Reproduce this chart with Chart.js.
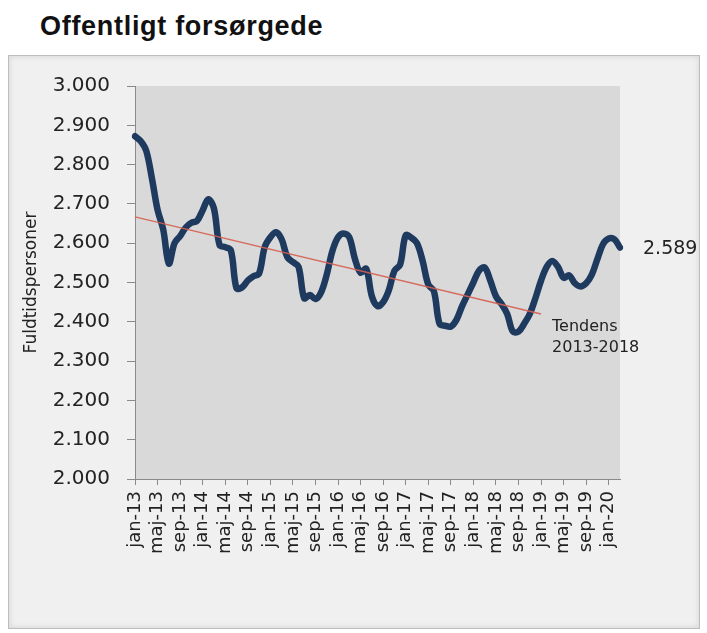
<!DOCTYPE html>
<html lang="da">
<head>
<meta charset="UTF-8">
<title>Offentligt forsørgede</title>
<style>
body { margin: 0; background: #fff; width: 707px; height: 633px; position: relative; overflow: hidden; }
.title {
  position: absolute; left: 40px; top: 13px;
  font: bold 27px "Liberation Sans", Arial, sans-serif; line-height: 26px; color: #111;
  letter-spacing: 0.7px;
}
.panel {
  position: absolute; left: 8px; top: 55px; width: 690px; height: 572px;
  border: 1px solid #bdbdbd; background: #f0f0f0;
  box-shadow: inset 0 0 6px rgba(0,0,0,0.12);
}
.panel canvas { position: absolute; left: 0; top: 0; }
</style>
</head>
<body>
<div class="title">Offentligt forsørgede</div>
<div class="panel">
  <canvas id="chart" width="690" height="572"></canvas>
</div>

<script src="https://cdn.jsdelivr.net/npm/chart.js"></script>
<script>
// month names (Danish) and years covered, jan-13 .. mar-20
const monthNames = ['jan','feb','mar','apr','maj','jun','jul','aug','sep','okt','nov','dec'];
const years = [13, 14, 15, 16, 17, 18, 19, 20];
const lastMonthOf2020 = 3;

// offentligt forsørgede, fuldtidspersoner, monthly
const forsorgede = [
  2872, 2860, 2835, 2765, 2685, 2635, 2548, 2600, 2618, 2640, 2652, 2657,
  2684, 2712, 2688, 2595, 2590, 2582, 2485, 2488, 2505, 2516, 2523, 2590,
  2615, 2628, 2610, 2565, 2552, 2540, 2460, 2468, 2458, 2475, 2520, 2580,
  2615, 2625, 2615, 2560, 2525, 2535, 2465, 2440, 2450, 2480, 2530, 2545,
  2620, 2614, 2600, 2555, 2495, 2478, 2395, 2390, 2388, 2405, 2440, 2470,
  2500, 2530, 2538, 2505, 2465, 2445, 2420, 2375, 2375, 2395, 2420, 2460,
  2505, 2540, 2555, 2540, 2512, 2518, 2498, 2490, 2498, 2520, 2560, 2598,
  2612, 2610, 2589
];

// trend line 2013-2018 (start and end points)
const trendLabels = ['jan-13', 'jan-19'];
const trendValues = [2667, 2420];

const yTicks = { min: 2000, max: 3000, step: 100 };
const lastLabel = '2.589';
const trendText = ['Tendens', '2013-2018'];

const labels = [];
years.forEach(y => {
  const n = (y === 20) ? lastMonthOf2020 : 12;
  for (let m = 0; m < n; m++) labels.push(monthNames[m] + '-' + y);
});

function fmt(v) {
  return Math.floor(v / 1000) + '.' + String(v % 1000).padStart(3, '0');
}

const plotBg = {
  id: 'plotBg',
  beforeDraw(chart) {
    const a = chart.chartArea, ctx = chart.ctx;
    ctx.save();
    ctx.fillStyle = '#d9d9d9';
    ctx.fillRect(a.left, a.top, a.right - a.left, a.bottom - a.top);
    ctx.restore();
  }
};

const notes = {
  id: 'notes',
  afterDraw(chart) {
    const ctx = chart.ctx, x = chart.scales.x, y = chart.scales.y;
    ctx.save();
    ctx.fillStyle = '#222';
    ctx.textAlign = 'left';
    ctx.textBaseline = 'middle';
    ctx.font = '19px "DejaVu Sans"';
    ctx.fillText(lastLabel, chart.chartArea.right + 23, y.getPixelForValue(forsorgede[forsorgede.length - 1]) + 2);
    ctx.textBaseline = 'alphabetic';
    ctx.font = '16px "DejaVu Sans"';
    const tx = x.getPixelForValue(labels.indexOf(trendLabels[1])) + 11;
    const ty = y.getPixelForValue(trendValues[1]);
    ctx.fillText(trendText[0], tx, ty + 17);
    ctx.fillText(trendText[1], tx, ty + 38);
    ctx.restore();
  }
};

new Chart(document.getElementById('chart'), {
  type: 'line',
  data: {
    labels: labels,
    datasets: [{
      label: 'Tendens',
      data: trendLabels.map((l, i) => ({ x: l, y: trendValues[i] })),
      borderColor: 'rgba(214, 95, 80, 0.9)',
      borderWidth: 1.5,
      pointRadius: 0,
      tension: 0,
      order: 0
    }, {
      label: 'Offentligt forsørgede',
      data: forsorgede,
      borderColor: '#1f3a5f',
      borderWidth: 6.5,
      pointRadius: 0,
      tension: 0.35,
      borderJoinStyle: 'round',
      borderCapStyle: 'round',
      order: 1
    }]
  },
  options: {
    responsive: false,
    animation: false,
    layout: { padding: { top: 30, right: 79, left: 0, bottom: 0 } },
    plugins: { legend: { display: false }, tooltip: { enabled: false } },
    scales: {
      x: {
        afterFit: s => { s.height = 149; },
        grid: { drawOnChartArea: false, drawTicks: true, tickLength: 6, color: '#8a8a8a' },
        border: { color: '#8a8a8a' },
        ticks: {
          autoSkip: false, minRotation: 90, maxRotation: 90, padding: 6,
          color: '#222', font: { family: 'DejaVu Sans', size: 18 },
          callback: function (v, i) { return i % 4 === 0 ? this.getLabelForValue(v) : null; }
        }
      },
      y: {
        min: yTicks.min, max: yTicks.max,
        afterFit: s => { s.width = 126; },
        grid: { drawOnChartArea: false, drawTicks: true, tickLength: 8, color: '#8a8a8a' },
        border: { color: '#8a8a8a' },
        ticks: {
          stepSize: yTicks.step, padding: 17, color: '#222',
          font: { family: 'DejaVu Sans', size: 20 },
          callback: v => fmt(v)
        },
        title: {
          display: true, text: 'Fuldtidspersoner', color: '#222',
          font: { family: 'DejaVu Sans', size: 17 },
          padding: { top: 12, bottom: 0 }
        }
      }
    }
  },
  plugins: [plotBg, notes]
});
</script>
</body>
</html>
